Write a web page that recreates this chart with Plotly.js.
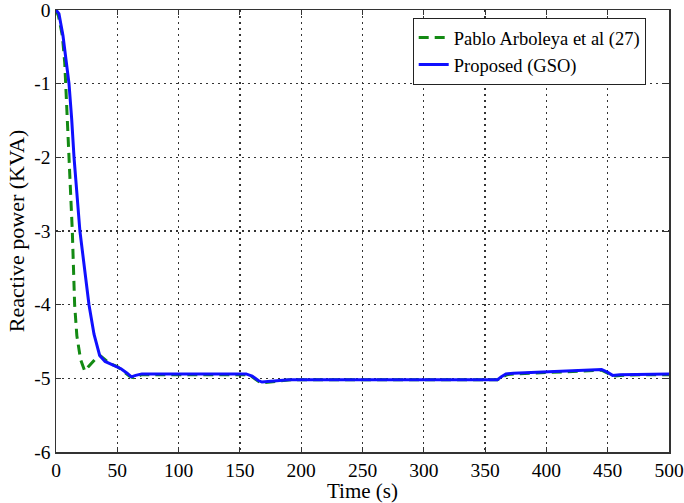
<!DOCTYPE html>
<html>
<head>
<meta charset="utf-8">
<script src="https://cdn.plot.ly/plotly-3.0.1.min.js"></script>
<style>
  html, body { margin: 0; padding: 0; background: #fff; }
  #chart { width: 684px; height: 503px; }
</style>
</head>
<body>
<div id="chart"></div>
<script>
// Reactive power response over time for the two controllers
const pabloTime = [0, 2, 5.2, 7.1, 7.9, 10.6, 13.3, 15.2, 17, 20, 23.4, 26, 29, 33, 36, 40, 44, 50, 55, 60, 63, 70, 100, 155, 160, 165, 168, 175, 185, 192, 250, 300, 360, 363, 368, 373, 400, 430, 445, 450, 454, 460, 478, 500];
const pabloPower = [0, -0.08, -0.35, -0.71, -1, -2, -3, -4, -4.42, -4.74, -4.9, -4.85, -4.8, -4.72, -4.69, -4.75, -4.8, -4.84, -4.9, -4.97, -4.99, -4.95, -4.95, -4.95, -4.98, -5.04, -5.06, -5.05, -5.04, -5.02, -5.02, -5.02, -5.02, -4.99, -4.95, -4.94, -4.92, -4.9, -4.89, -4.93, -4.97, -4.96, -4.95, -4.95];

const gsoTime = [0, 2.4, 5.7, 8.5, 10.6, 12.8, 14.7, 19.5, 26.9, 31, 35.6, 40, 44, 48, 53, 58, 61.5, 65, 70, 100, 155, 160, 165, 168, 175, 180, 190, 250, 300, 360, 363, 367, 373, 400, 430, 445, 450, 454, 460, 478, 500];
const gsoPower = [0, -0.05, -0.35, -0.71, -1, -1.48, -2, -3, -4, -4.4, -4.69, -4.77, -4.8, -4.83, -4.87, -4.93, -4.98, -4.96, -4.94, -4.94, -4.94, -4.97, -5.03, -5.05, -5.04, -5.03, -5.02, -5.02, -5.02, -5.02, -4.98, -4.94, -4.93, -4.91, -4.89, -4.88, -4.92, -4.96, -4.95, -4.95, -4.94];

const xTicks = [0, 50, 100, 150, 200, 250, 300, 350, 400, 450, 500];
const yTicks = [-6, -5, -4, -3, -2, -1, 0];

const serif = "Liberation Serif";

const traces = [
  {
    x: pabloTime, y: pabloPower, type: "scatter", mode: "lines",
    name: "Pablo Arboleya et al (27)",
    line: { color: "#138a13", width: 3, dash: "10px,6px" }
  },
  {
    x: gsoTime, y: gsoPower, type: "scatter", mode: "lines",
    name: "Proposed (GSO)",
    line: { color: "#1010ff", width: 3 }
  }
];

const axisCommon = {
  showgrid: true,
  gridcolor: "#333",
  gridwidth: 1.3,
  griddash: "1.5px,4.5px",
  zeroline: false,
  showline: true,
  linecolor: "#333",
  linewidth: 1.5,
  mirror: "ticks",
  ticks: "inside",
  ticklen: 5,
  tickcolor: "#333",
  ticklabeloverflow: "allow",
  tickfont: { family: serif, size: 19.5, color: "#000" }
};

const layout = {
  width: 684,
  height: 503,
  font: { family: serif },
  margin: { l: 56, r: 15, t: 10, b: 51 },
  paper_bgcolor: "#fff",
  plot_bgcolor: "#fff",
  showlegend: true,
  legend: {
    x: 0.962, y: 0.982, xanchor: "right", yanchor: "top",
    bgcolor: "#fff", bordercolor: "#222", borderwidth: 1,
    font: { family: serif, size: 18.5, color: "#000" },
    tracegroupgap: 0
  },
  xaxis: Object.assign({}, axisCommon, {
    range: [0, 500],
    tickvals: xTicks,
    ticktext: xTicks.map(String),
    title: { text: "Time (s)", font: { family: serif, size: 21, color: "#000" }, standoff: 2 }
  }),
  yaxis: Object.assign({}, axisCommon, {
    range: [-6, 0],
    tickvals: yTicks,
    ticktext: yTicks.map(String),
    title: { text: "Reactive power (KVA)", font: { family: serif, size: 22, color: "#000" }, standoff: 3 }
  })
};

Plotly.newPlot("chart", traces, layout, { displayModeBar: false, staticPlot: true });
</script>
</body>
</html>
